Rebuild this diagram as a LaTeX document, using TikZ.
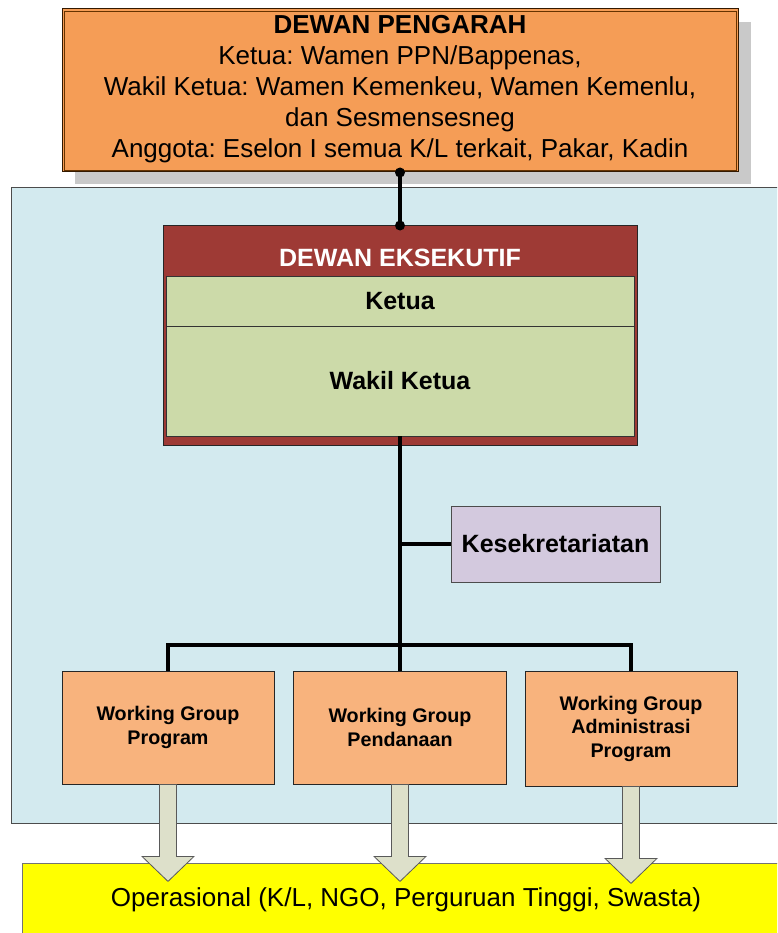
\documentclass[tikz,border=0pt]{standalone}
\usepackage{fontspec}
\setmainfont{Liberation Sans}
\usetikzlibrary{calc}
\frenchspacing
\begin{document}
\begin{tikzpicture}[x=1pt,y=-1pt,
  box/.style={draw=#1, rectangle, inner sep=0pt, align=center},
  txtbig/.style={font=\fontsize{26}{31}\selectfont},
  txtbold/.style={font=\fontsize{25}{30}\selectfont\bfseries},
  txtwg/.style={font=\fontsize{19.7}{23.5}\selectfont\bfseries},
  wline/.style={line width=3.2pt, black},
  dot/.style={circle, fill=black, inner sep=0pt, minimum size=10pt},
  bigarrow/.style={draw=black!65, fill=arrowfill, line width=0.8pt, line join=miter}
]
\definecolor{orangetop}{HTML}{F59D56}
\definecolor{wgfill}{HTML}{F8B37D}
\definecolor{bluefill}{HTML}{D3EAEF}
\definecolor{redfill}{HTML}{9E3A35}
\definecolor{greenfill}{HTML}{CCDAA9}
\definecolor{lavender}{HTML}{D3C9DE}
\definecolor{arrowfill}{HTML}{DDE0CA}
\definecolor{shadowgray}{HTML}{C9C9C9}
\definecolor{opsyellow}{HTML}{FFFF00}

\useasboundingbox (0,0) rectangle (777,933);
\clip (0,0) rectangle (777,933);

% shaded panel behind the executive board
\fill[shadowgray] (75,22) rectangle (751,184);
\draw[black!70, line width=0.8pt, fill=bluefill] (11,187) rectangle (800,823);

% operational band at the bottom
\node[box=black!55, fill=opsyellow, line width=0.8pt, minimum width=780pt, minimum height=84pt,
      anchor=north west] (ops) at (22,863) {};
\node[txtbig] (opstext) at (406,900) {Operasional (K/L, NGO, Perguruan Tinggi, Swasta)};

% steering board
\node[box=black!80!orange, fill=orangetop, line width=1pt, minimum width=676pt, minimum height=163pt]
  (pengarah) at (400,90.5) {};
\draw[black!60!orange, line width=0.5pt] ($(pengarah.north west)+(2.5,2.5)$) rectangle ($(pengarah.south east)+(-2.5,-2.5)$);
\node[txtbig, align=center] (pengarahtext) at (400,89)
  {\textbf{DEWAN PENGARAH}\\ Ketua: Wamen PPN/Bappenas,\\ Wakil Ketua: Wamen Kemenkeu, Wamen Kemenlu,\\ dan Sesmensesneg\\ Anggota: Eselon I semua K/L terkait, Pakar, Kadin};

% executive board
\node[box=black!85, fill=redfill, line width=1pt, minimum width=474pt, minimum height=219pt] (eks) at (400,335.5) {};
\node[txtbold, text=white] (ekstitle) at (400,258) {DEWAN EKSEKUTIF};
\node[box=black!80, fill=greenfill, line width=0.8pt, minimum width=468pt, minimum height=50pt, txtbold] (ketua) at (400,301) {Ketua};
\node[box=black!80, fill=greenfill, line width=0.8pt, minimum width=468pt, minimum height=110pt, txtbold] (wakil) at (400,381) {Wakil Ketua};

% secretariat
\node[box=black!70, fill=lavender, line width=0.8pt, minimum width=209pt, minimum height=76pt, txtbold] (kes) at (555.5,544) {Kesekretariatan};

% working groups
\node[box=black!85, fill=wgfill, line width=0.8pt, minimum width=212pt, minimum height=113pt, txtwg] (wg1) at (168,727.5) {Working Group\\Program};
\node[box=black!85, fill=wgfill, line width=0.8pt, minimum width=213pt, minimum height=113pt, txtwg] (wg2) at (400,727.5) {Working Group\\Pendanaan};
\node[box=black!85, fill=wgfill, line width=0.8pt, minimum width=212pt, minimum height=115pt, txtwg] (wg3) at (631,728.5) {Working Group\\Administrasi\\Program};

% connectors
\coordinate (jkes) at (wakil.south |- kes.west);
\coordinate (jbar) at (400,645);
\draw[wline] (pengarah.south) -- (eks.north);
\node[dot] (dtop) at (pengarah.south) {};
\node[dot] (dbot) at (eks.north) {};
\draw[wline] (wakil.south) -- (wg2.north);
\draw[wline] (jkes) -- (kes.west);
\draw[wline, line join=miter] (wg1.north) -- (wg1.north |- jbar) -- (wg3.north |- jbar) -- (wg3.north);

% block arrows into the operational band
\foreach \w in {wg1,wg2,wg3}{
  \draw[bigarrow] (\w.south) ++(-8.5,0) -- ++(0,72) -- ++(-17.5,0) -- ++(26,25) -- ++(26,-25) -- ++(-17.5,0) -- ++(0,-72) -- cycle;
}
\end{tikzpicture}
\end{document}
